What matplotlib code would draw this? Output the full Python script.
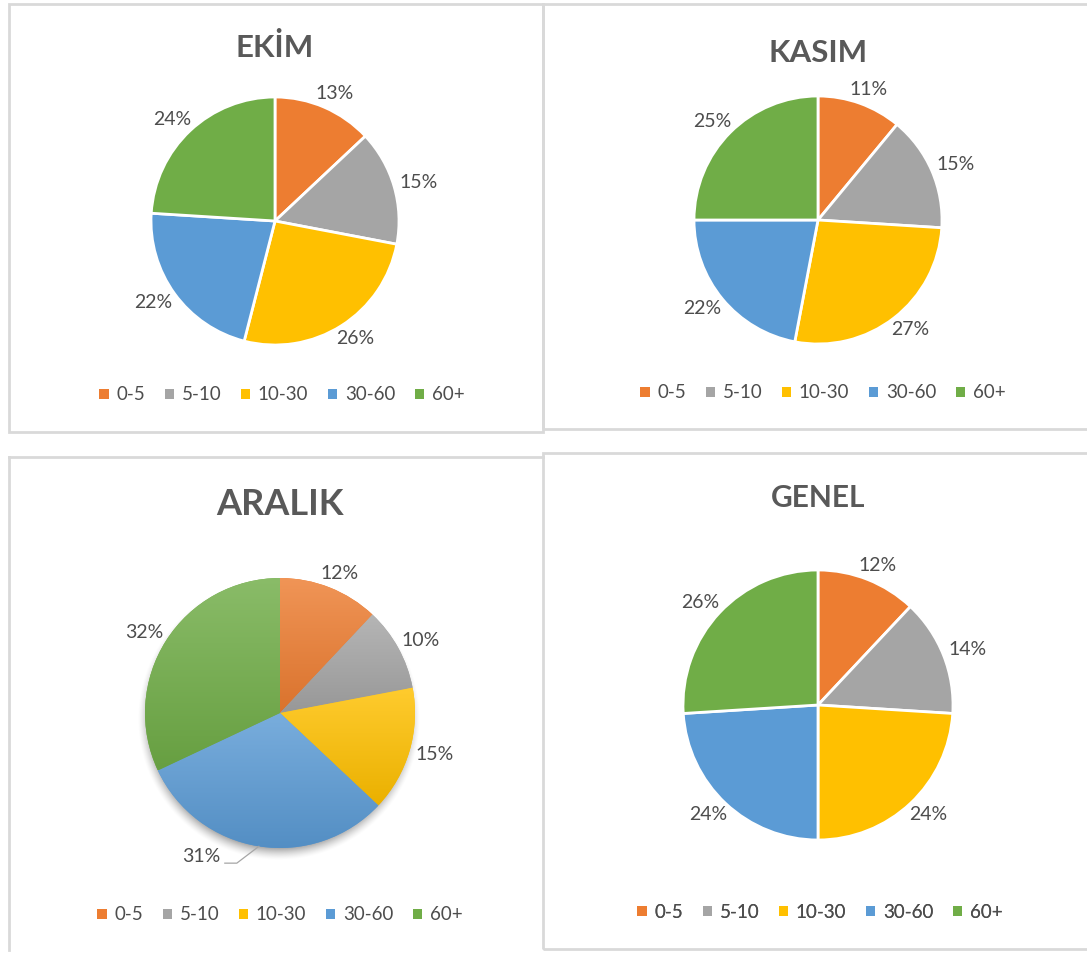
import numpy as np
import matplotlib
matplotlib.use("Agg")
import matplotlib.pyplot as plt
from matplotlib.patches import Patch, Rectangle
from matplotlib.colors import to_rgb

categories = ["0-5", "5-10", "10-30", "30-60", "60+"]
ekim = [13, 15, 26, 22, 24]
kasim = [11, 15, 27, 22, 25]
aralik = [12, 10, 15, 31, 32]
genel = [12, 14, 24, 24, 26]
titles = ["EKİM", "KASIM", "ARALIK", "GENEL"]

colors = ["#ED7D31", "#A5A5A5", "#FFC000", "#5B9BD5", "#70AD47"]
text_color = "#4D4D4D"
title_color = "#595959"
border_color = "#D9D9D9"

plt.rcParams["font.family"] = ["Lato", "DejaVu Sans"]

W, H = 1087, 965
fig = plt.figure(figsize=(W / 100, H / 100), dpi=100)
ax = fig.add_axes([0, 0, 1, 1])

# layout in pixels measured from the top-left corner
panels = [
    dict(values=ekim, center=(275, 221), r=124, title_base=57, title_size=22.5,
         legend=(282, 395), fancy=False),
    dict(values=kasim, center=(818, 220), r=124, title_base=62, title_size=22.5,
         legend=(823, 393), fancy=False),
    dict(values=aralik, center=(280, 713), r=135, title_base=515, title_size=26,
         legend=(280, 915), fancy=True),
    dict(values=genel, center=(818, 705), r=135, title_base=507, title_size=21.5,
         legend=(820, 912), fancy=False),
]


def mix(c, other, t):
    c = np.array(to_rgb(c))
    return c * (1 - t) + np.array(other) * t


# panel borders
for x0, y0, x1, y1 in [(9, 4, 543, 432), (543, 4, 1095, 429), (543, 453, 1095, 949)]:
    ax.add_patch(Rectangle((x0, H - y1), x1 - x0, y1 - y0, fill=False,
                           edgecolor=border_color, linewidth=2, zorder=0))
ax.plot([9, 543], [H - 457, H - 457], color=border_color, linewidth=2, zorder=0)
ax.plot([9, 9], [H - 457, H - 950], color=border_color, linewidth=2, zorder=0)

handles = [Patch(facecolor=c, edgecolor="none") for c in colors]

for p, title in zip(panels, titles):
    cx, cy = p["center"][0], H - p["center"][1]
    r = p["r"]
    if p["fancy"]:
        # soft shadow under the pie, mostly below it
        n = 2 * r + 80
        xs = np.linspace(-n / 2, n / 2, n)
        xx, yy = np.meshgrid(xs, xs)
        d = np.hypot(xx + 1, yy + 6)
        alpha = 0.40 * np.clip((r + 7 - d) / 14, 0, 1) ** 1.5
        shadow = np.zeros((n, n, 4))
        shadow[..., 3] = alpha
        ax.imshow(shadow, extent=(cx - n / 2, cx + n / 2, cy - n / 2, cy + n / 2),
                  origin="lower", aspect="auto", zorder=0.5, interpolation="bilinear")
        wedges, _ = ax.pie(p["values"], colors=colors, startangle=90, counterclock=False,
                           center=(cx, cy), radius=r, frame=True,
                           wedgeprops=dict(linewidth=0))
        for w, c in zip(wedges, colors):
            ext = w.get_path().get_extents()
            grad = np.linspace(0, 1, 64)[:, None, None]
            img = mix(c, (1, 1, 1), 0.18)[None, None, :] * (1 - grad) + \
                mix(c, (0, 0, 0), 0.08)[None, None, :] * grad
            im = ax.imshow(img, extent=(ext.x0, ext.x1, ext.y0, ext.y1), origin="upper",
                           aspect="auto", interpolation="bilinear", zorder=1.5)
            im.set_clip_path(w)
    else:
        wedges, _ = ax.pie(p["values"], colors=colors, startangle=90, counterclock=False,
                           center=(cx, cy), radius=r, frame=True,
                           wedgeprops=dict(edgecolor="white", linewidth=2))

    for i, (w, v) in enumerate(zip(wedges, p["values"])):
        ang = np.deg2rad((w.theta1 + w.theta2) / 2)
        ux, uy = np.cos(ang), np.sin(ang)
        lx = cx + (r + 6) * ux + 20 * ux
        ly = cy + (r + 6) * uy + 9 * uy
        if p["fancy"] and i == 3:
            # label dragged away from the slice, with a leader line
            lx -= 54
            ly += 5
            ex, ey = cx + r * ux, cy + r * uy
            ax.plot([lx + 24, lx + 36, ex], [ly - 7, ly - 7, ey],
                    color="#A6A6A6", linewidth=0.9, zorder=3)
        ax.text(lx, ly, f"{v}%", ha="center", va="center", fontsize=14,
                color=text_color, zorder=4)

    ax.text(cx, H - p["title_base"], title, ha="center", va="baseline",
            fontsize=p["title_size"], fontweight="bold", color=title_color)

    leg = ax.legend(handles, categories, loc="center",
                    bbox_to_anchor=(p["legend"][0], H - p["legend"][1]),
                    bbox_transform=ax.transData, ncol=5, frameon=False, fontsize=13.5,
                    handlelength=0.5, handleheight=0.5, handletextpad=0.4,
                    columnspacing=1.05, labelcolor=text_color, borderpad=0,
                    borderaxespad=0)
    ax.add_artist(leg)

ax.set_xlim(0, W)
ax.set_ylim(0, H)
ax.set_aspect("auto")
ax.axis("off")

fig.savefig("out.png", dpi=100)
